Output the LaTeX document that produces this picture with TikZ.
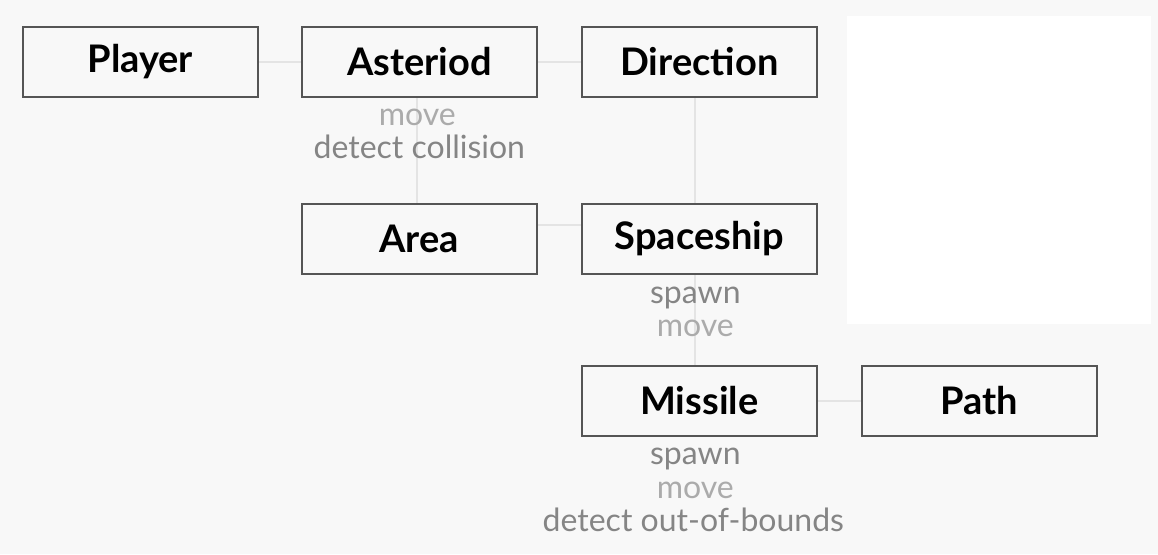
\documentclass[tikz,border=0pt]{standalone}
\usepackage{fontspec}
\setmainfont{Lato}
\usetikzlibrary{calc}
\pgfdeclarelayer{bg}
\pgfsetlayers{bg,main}
\definecolor{bgcol}{HTML}{F8F8F8}
\definecolor{boxline}{HTML}{555555}
\definecolor{conn}{HTML}{E4E4E4}
\definecolor{lbldark}{HTML}{858585}
\definecolor{lbllight}{HTML}{ABABAB}
\tikzset{
  entity/.style={draw=boxline, line width=1.6pt, fill=bgcol, minimum width=235pt, minimum height=70pt, inner sep=0pt, font=\fontsize{38}{42}\selectfont\bfseries, text=black, anchor=north west},
  link/.style={draw=conn, line width=1.8pt},
  lbl/.style={font=\fontsize{32}{36}\selectfont, anchor=base, inner sep=0pt},
  dk/.style={lbl, text=lbldark},
  lt/.style={lbl, text=lbllight}
}
\begin{document}
\begin{tikzpicture}[x=1pt,y=-1pt]
\useasboundingbox (0,0) rectangle (1158,554);
% nodes
\node[entity] (player) at (22,26) {Player};
\node[entity] (ast) at (301,26) {Asteriod};
\node[entity] (dir) at (581,26) {Direction};
\node[entity] (area) at (301,203) {Area};
\node[entity] (ship) at (581,203) {Spaceship};
\node[entity] (mis) at (581,365) {Missile};
\node[entity] (path) at (861,365) {Path};
% background and connectors
\begin{pgfonlayer}{bg}
\fill[bgcol] (0,0) rectangle (1158,554);
\fill[white] (847,16) rectangle (1151,324);
\draw[link] (player.east) -- (ast.west);
\draw[link] (ast.east) -- (dir.west);
\draw[link] ([xshift=-2pt]ast.south) -- ([xshift=-2pt]area.north);
\draw[link] ([xshift=-4pt]dir.south) -- ([xshift=-4pt]ship.north);
\draw[link] ([yshift=14pt]area.east) -- ([yshift=14pt]ship.west);
\draw[link] ([xshift=-4pt]ship.south) -- ([xshift=-4pt]mis.north);
\draw[link] (mis.east) -- (path.west);
\end{pgfonlayer}
% labels
\node[lt] (astl1) at ($(ast.south)+(-2,28)$) {move};
\node[dk] (astl2) at ($(ast.south)+(0,61)$) {detect collision};
\node[dk] (shipl1) at ($(ship.south)+(-4,29)$) {spawn};
\node[lt] (shipl2) at ($(ship.south)+(-4,62)$) {move};
\node[dk] (misl1) at ($(mis.south)+(-4,28)$) {spawn};
\node[lt] (misl2) at ($(mis.south)+(-4,62)$) {move};
\node[dk] (misl3) at ($(mis.south)+(-6,95)$) {detect out-of-bounds};
\end{tikzpicture}
\end{document}
